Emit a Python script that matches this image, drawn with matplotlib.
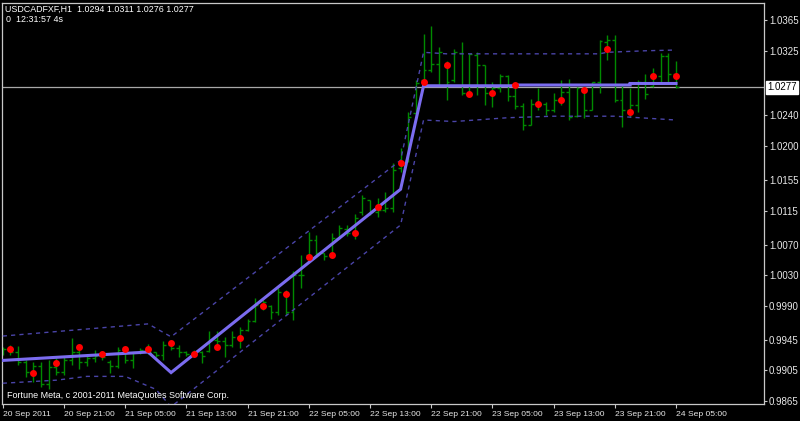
import matplotlib
matplotlib.use("Agg")
import matplotlib.pyplot as plt
import matplotlib.transforms as mtransforms
import numpy as np

# ---------------- data ----------------
opens = [0.9929, 0.9933, 0.9929, 0.9916, 0.9903, 0.9911, 0.9887, 0.9909, 0.9903, 0.9919,
         0.9929, 0.9916, 0.9921, 0.9924, 0.9916, 0.9911, 0.9932, 0.9919, 0.9929, 0.9932,
         0.9929, 0.9925, 0.9938, 0.9934, 0.9929, 0.9926, 0.9929, 0.9930, 0.9945, 0.9943,
         0.9938, 0.9949, 0.9958, 0.9970, 0.9991, 0.9990, 0.9982, 1.0005, 0.9982, 1.0030,
         1.0057, 1.0076, 1.0059, 1.0057, 1.0079, 1.0091, 1.0085, 1.0113, 1.0129, 1.0113,
         1.0116, 1.0118, 1.0171, 1.0181, 1.0243, 1.0287, 1.0300, 1.0308, 1.0305, 1.0287,
         1.0322, 1.0269, 1.0319, 1.0306, 1.0269, 1.0276, 1.0292, 1.0266, 1.0252, 1.0227,
         1.0255, 1.0255, 1.0247, 1.0260, 1.0271, 1.0239, 1.0275, 1.0247, 1.0284, 1.0337,
         1.0339, 1.0260, 1.0247, 1.0254, 1.0284, 1.0279, 1.0292, 1.0318, 1.0294]
highs = [0.9936, 0.9938, 0.9937, 0.9919, 0.9916, 0.9916, 0.9919, 0.9921, 0.9923, 0.9948,
         0.9932, 0.9925, 0.9932, 0.9929, 0.9919, 0.9936, 0.9932, 0.9929, 0.9934, 0.9940,
         0.9929, 0.9943, 0.9945, 0.9938, 0.9930, 0.9932, 0.9930, 0.9956, 0.9956, 0.9949,
         0.9956, 0.9962, 0.9972, 1.0000, 0.9997, 0.9991, 1.0013, 1.0011, 1.0035, 1.0057,
         1.0087, 1.0083, 1.0059, 1.0085, 1.0096, 1.0096, 1.0110, 1.0135, 1.0129, 1.0131,
         1.0140, 1.0177, 1.0197, 1.0245, 1.0287, 1.0347, 1.0358, 1.0330, 1.0311, 1.0327,
         1.0336, 1.0322, 1.0324, 1.0306, 1.0284, 1.0294, 1.0293, 1.0280, 1.0256, 1.0262,
         1.0276, 1.0258, 1.0269, 1.0287, 1.0288, 1.0278, 1.0276, 1.0284, 1.0339, 1.0346,
         1.0346, 1.0280, 1.0276, 1.0287, 1.0295, 1.0302, 1.0322, 1.0322, 1.0311]
lows = [0.9925, 0.9925, 0.9912, 0.9896, 0.9890, 0.9883, 0.9880, 0.9899, 0.9899, 0.9912,
        0.9907, 0.9911, 0.9916, 0.9919, 0.9902, 0.9908, 0.9914, 0.9908, 0.9927, 0.9927,
        0.9923, 0.9919, 0.9932, 0.9923, 0.9924, 0.9923, 0.9915, 0.9929, 0.9938, 0.9923,
        0.9936, 0.9934, 0.9957, 0.9969, 0.9984, 0.9973, 0.9978, 0.9978, 0.9971, 1.0013,
        1.0052, 1.0054, 1.0050, 1.0057, 1.0078, 1.0081, 1.0078, 1.0109, 1.0109, 1.0107,
        1.0113, 1.0113, 1.0166, 1.0179, 1.0238, 1.0284, 1.0297, 1.0280, 1.0260, 1.0284,
        1.0267, 1.0267, 1.0267, 1.0254, 1.0251, 1.0271, 1.0259, 1.0249, 1.0221, 1.0227,
        1.0247, 1.0241, 1.0245, 1.0254, 1.0234, 1.0238, 1.0236, 1.0247, 1.0269, 1.0313,
        1.0258, 1.0225, 1.0238, 1.0244, 1.0262, 1.0278, 1.0282, 1.0284, 1.0276]
closes = [0.9933, 0.9929, 0.9916, 0.9903, 0.9911, 0.9887, 0.9909, 0.9903, 0.9919, 0.9929,
          0.9916, 0.9921, 0.9924, 0.9922, 0.9911, 0.9932, 0.9919, 0.9929, 0.9932, 0.9929,
          0.9925, 0.9938, 0.9934, 0.9929, 0.9926, 0.9929, 0.9924, 0.9945, 0.9943, 0.9938,
          0.9949, 0.9958, 0.9970, 0.9991, 0.9995, 0.9982, 1.0008, 0.9982, 1.0030, 1.0030,
          1.0076, 1.0059, 1.0055, 1.0079, 1.0092, 1.0085, 1.0105, 1.0131, 1.0113, 1.0116,
          1.0118, 1.0168, 1.0175, 1.0238, 1.0283, 1.0300, 1.0308, 1.0323, 1.0284, 1.0323,
          1.0269, 1.0321, 1.0306, 1.0269, 1.0276, 1.0292, 1.0266, 1.0252, 1.0227, 1.0255,
          1.0254, 1.0247, 1.0260, 1.0271, 1.0238, 1.0276, 1.0247, 1.0284, 1.0338, 1.0339,
          1.0260, 1.0247, 1.0254, 1.0284, 1.0268, 1.0292, 1.0318, 1.0294, 1.0277]

# red dot indicator (every third bar)
dot_bars = list(range(1, 89, 3))
dot_values = [0.9933, 0.9902, 0.9914, 0.9936, 0.9926, 0.9933, 0.9933, 0.9941, 0.9926, 0.9936,
              0.9948, 0.9990, 1.0005, 1.0054, 1.0056, 1.0085, 1.0119, 1.0177, 1.0284, 1.0306,
              1.0268, 1.0269, 1.0280, 1.0255, 1.0260, 1.0273, 1.0327, 1.0244, 1.0292, 1.0292]

# regression channel (bar index, price)
mid_bars = [0, 19, 22, 52, 55, 67, 67, 82, 82, 88]
mid_vals = [0.9918, 0.9929, 0.9902, 1.0143, 1.0279, 1.0279, 1.0280, 1.0280, 1.0282, 1.0282]
up_bars = [0, 19, 22, 52, 55, 58, 69, 78, 79, 84, 88]
up_vals = [0.9950, 0.9966, 0.9949, 1.0181, 1.0323, 1.0321, 1.0321, 1.0321, 1.0323, 1.0325, 1.0326]
lo_bars = [0, 7, 11, 16, 20, 22, 52, 55, 59, 66, 72, 80, 88]
lo_vals = [0.9888, 0.9892, 0.9897, 0.9897, 0.9880, 0.9857, 1.0096, 1.0234, 1.0232, 1.0237,
           1.0239, 1.0239, 1.0234]

x_tick_bars = [0, 8, 16, 24, 32, 40, 48, 56, 64, 72, 80, 88]
x_tick_labels = ["20 Sep 2011", "20 Sep 21:00", "21 Sep 05:00", "21 Sep 13:00",
                 "21 Sep 21:00", "22 Sep 05:00", "22 Sep 13:00", "22 Sep 21:00",
                 "23 Sep 05:00", "23 Sep 13:00", "23 Sep 21:00", "24 Sep 05:00"]
y_ticks = [0.9865, 0.9905, 0.9945, 0.9990, 1.0030, 1.0070, 1.0115, 1.0155,
           1.0200, 1.0240, 1.0325, 1.0365]
y_tick_labels = ["0.9865", "0.9905", "0.9945", "0.9990", "1.0030", "1.0070", "1.0115",
                 "1.0155", "1.0200", "1.0240", "1.0325", "1.0365"]
current_price = 1.0277
title_line1 = "USDCADFXF,H1  1.0294 1.0311 1.0276 1.0277"
title_line2 = "0  12:31:57 4s"
footer = "Fortune Meta, c 2001-2011 MetaQuotes Software Corp."

# ---------------- plot ----------------
plt.rcParams['font.family'] = ['Liberation Sans', 'DejaVu Sans']
W, H = 800, 421
fig = plt.figure(figsize=(W / 100, H / 100), dpi=100, facecolor='black')
ax = fig.add_axes([2 / W, (H - 404.3) / H, 762 / W, 401.6 / H])
ax.set_facecolor('black')

idx = np.arange(len(closes))
bar_col = '#008a00'
ax.vlines(idx, lows, highs, color=bar_col, lw=1.0, zorder=2)
ax.hlines(opens, idx - 0.38, idx, color=bar_col, lw=1.0, zorder=2)
ax.hlines(closes, idx, idx + 0.38, color=bar_col, lw=1.0, zorder=2)

ax.axhline(current_price, color='#a8a8a8', lw=0.9, zorder=1)

chan_col = '#4a44a8'
ax.plot(up_bars, up_vals, color=chan_col, lw=1.0, ls=(0, (3, 3)), zorder=3)
ax.plot(lo_bars, lo_vals, color=chan_col, lw=1.0, ls=(0, (3, 3)), zorder=3)
ax.plot(mid_bars, mid_vals, color='#7b6cf0', lw=2.2, zorder=4, solid_joinstyle='miter')

ax.plot(dot_bars, dot_values, ls='none', marker='o', ms=5, color='#ff0000',
        markeredgewidth=0, zorder=5)

ax.set_xlim(-0.1, 99.5)
ax.set_ylim(0.98603, 1.03882)

for s in ax.spines.values():
    s.set_color('#c8c8c8')
    s.set_linewidth(0.9)

ax.yaxis.tick_right()
ax.set_yticks(y_ticks)
ax.set_yticklabels(y_tick_labels)
ax.tick_params(axis='y', colors='#c8c8c8', labelcolor='#e8e8e8', length=2, width=0.8,
               labelsize=7, pad=1.5)
ax.set_xticks(x_tick_bars)
ax.set_xticklabels(x_tick_labels)
ax.tick_params(axis='x', colors='#c8c8c8', labelcolor='#e8e8e8', length=3, width=0.8,
               labelsize=6.1, pad=2)
for lab in ax.get_xticklabels():
    lab.set_ha('left')

# current price label
trans = mtransforms.blended_transform_factory(ax.transAxes, ax.transData)
ax.text(1.004, current_price, "1.0277", transform=trans, ha='left', va='center',
        fontsize=7, color='black',
        bbox=dict(boxstyle='square,pad=0.15', facecolor='white', edgecolor='white'),
        clip_on=False, zorder=10)

fig.text(5 / W, 1 - 9.5 / H, title_line1, color='white', fontsize=6.4, ha='left', va='center')
fig.text(6 / W, 1 - 19.5 / H, title_line2, color='white', fontsize=6.4, ha='left', va='center')
fig.text(6.7 / W, 1 - 396 / H, footer, color='white', fontsize=6.5, ha='left', va='center')

fig.savefig('out.png', dpi=100, facecolor='black')
